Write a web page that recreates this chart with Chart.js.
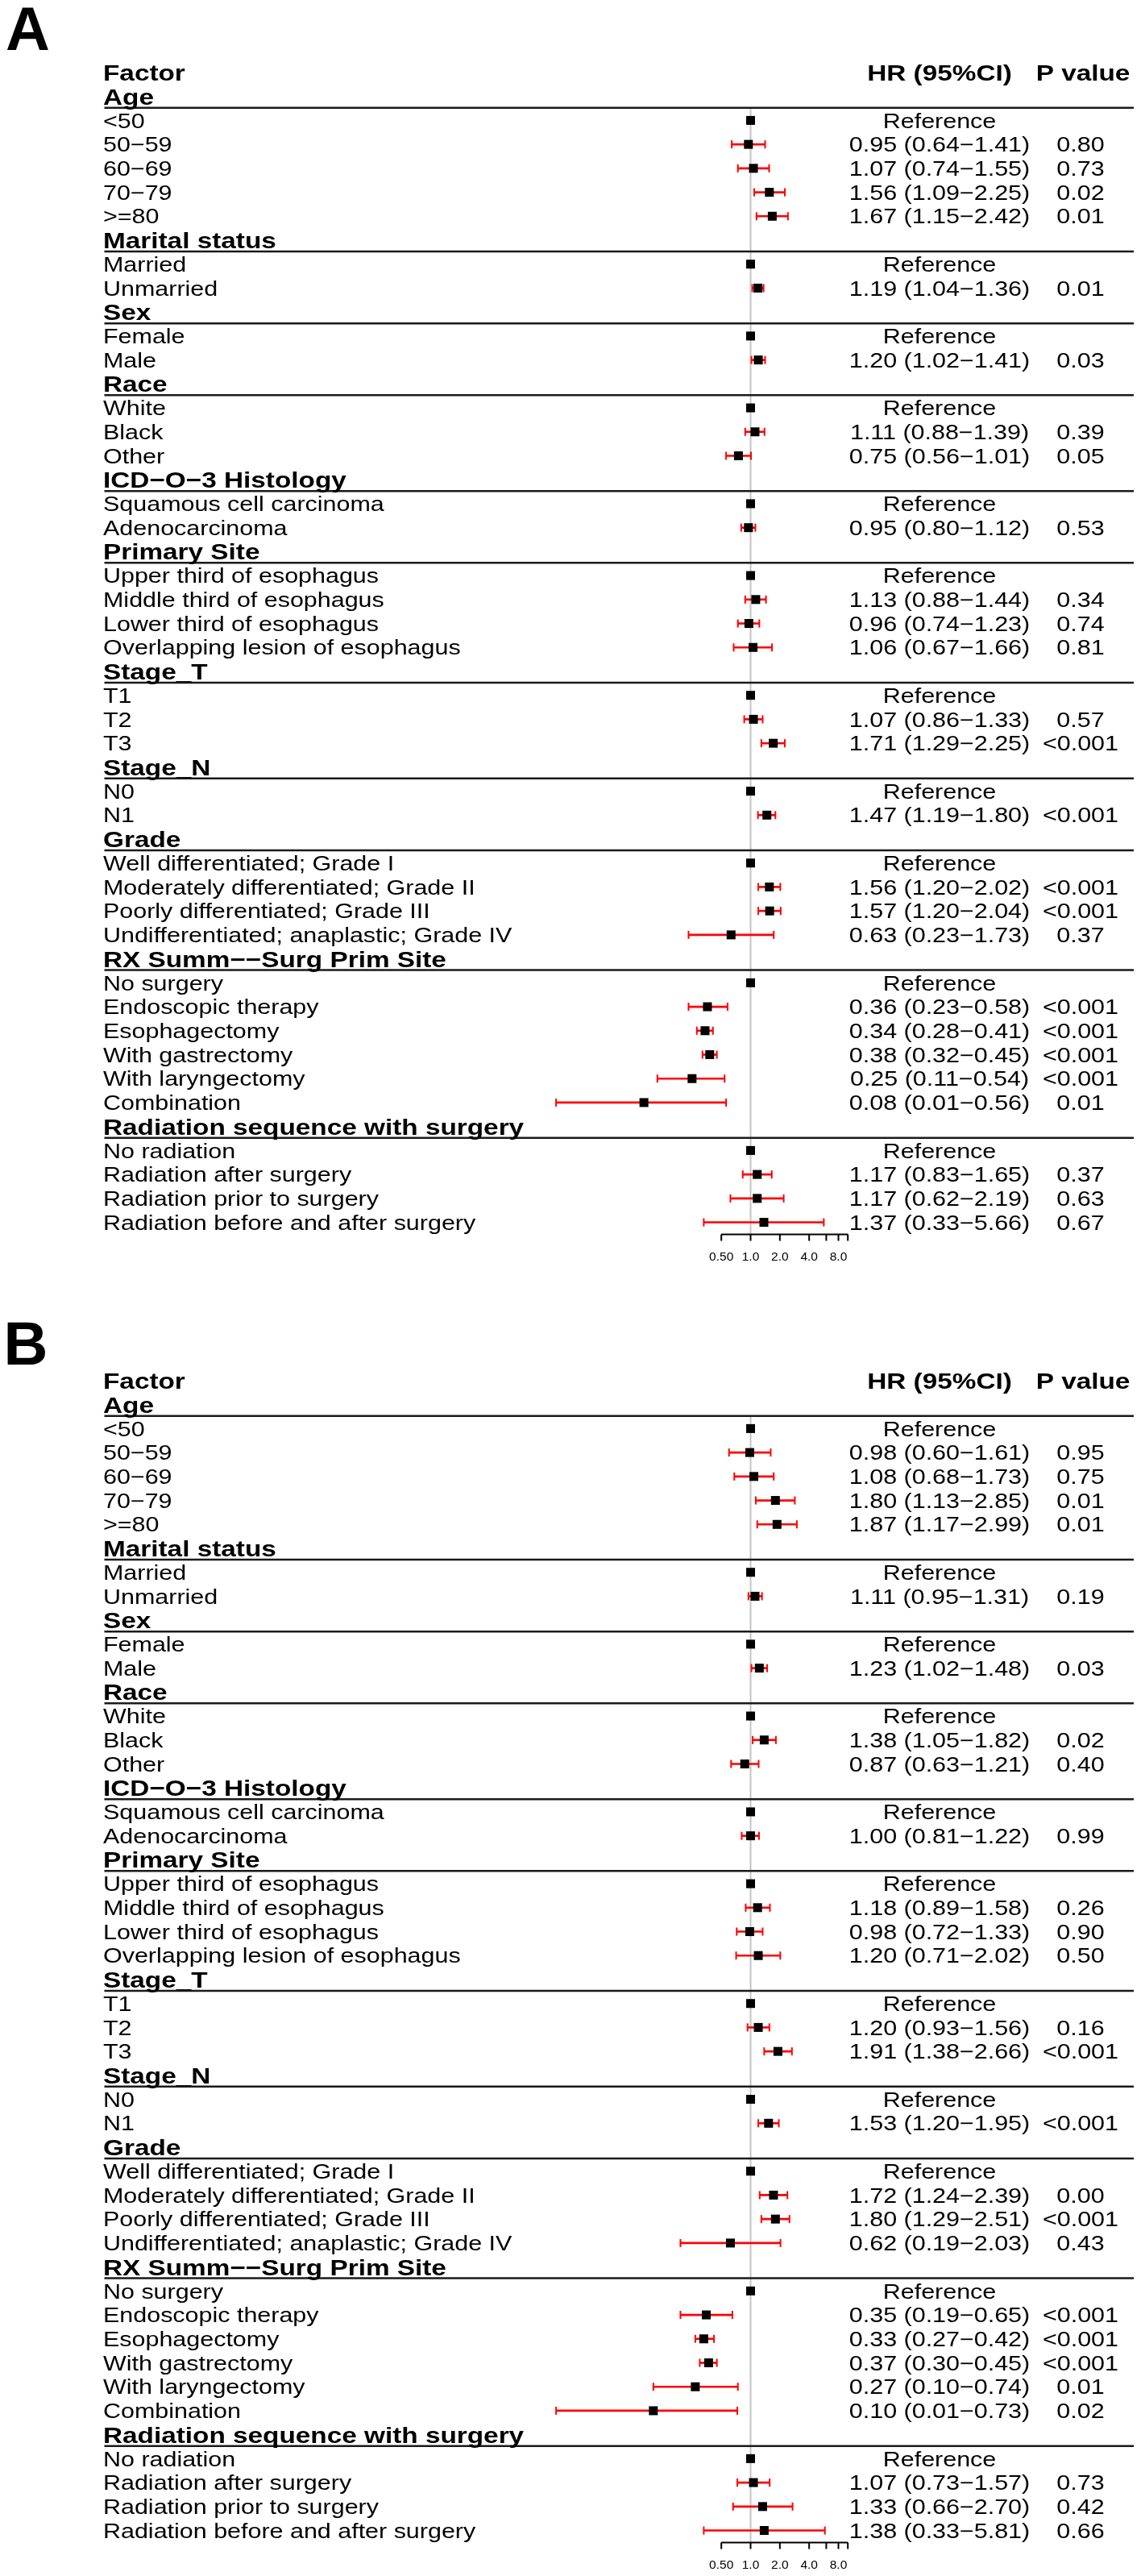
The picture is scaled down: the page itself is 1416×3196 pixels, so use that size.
<!DOCTYPE html>
<html>
<head>
<meta charset="utf-8">
<title>Forest plot</title>
<script src="https://cdn.jsdelivr.net/npm/chart.js@4.4.1/dist/chart.umd.min.js"></script>
<style>
  body { margin: 0; background: #fff; }
  canvas { display: block; }
</style>
</head>
<body>
<canvas id="panelA" width="1416" height="1623"></canvas>
<canvas id="panelB" width="1416" height="1573"></canvas>
<script>
const groups = ['Age', 'Marital status', 'Sex', 'Race', 'ICD−O−3 Histology', 'Primary Site', 'Stage_T', 'Stage_N', 'Grade', 'RX Summ−−Surg Prim Site', 'Radiation sequence with surgery'];
const groupItems = [
  ['<50', '50−59', '60−69', '70−79', '>=80'],
  ['Married', 'Unmarried'],
  ['Female', 'Male'],
  ['White', 'Black', 'Other'],
  ['Squamous cell carcinoma', 'Adenocarcinoma'],
  ['Upper third of esophagus', 'Middle third of esophagus', 'Lower third of esophagus', 'Overlapping lesion of esophagus'],
  ['T1', 'T2', 'T3'],
  ['N0', 'N1'],
  ['Well differentiated; Grade I', 'Moderately differentiated; Grade II', 'Poorly differentiated; Grade III', 'Undifferentiated; anaplastic; Grade IV'],
  ['No surgery', 'Endoscopic therapy', 'Esophagectomy', 'With gastrectomy', 'With laryngectomy', 'Combination'],
  ['No radiation', 'Radiation after surgery', 'Radiation prior to surgery', 'Radiation before and after surgery']
];
const refValue = 1;
const axisTicks = [0.5, 1, 2, 4, 6, 8, 10];
const axisLabelValues = [0.5, 1, 2, 4, 8];
const axisLabels = ['0.50', '1.0', '2.0', '4.0', '8.0'];

// Panel A (null = Reference)
const hrA = [null, 0.95, 1.07, 1.56, 1.67, null, 1.19, null, 1.20, null, 1.11, 0.75, null, 0.95, null, 1.13, 0.96, 1.06, null, 1.07, 1.71, null, 1.47, null, 1.56, 1.57, 0.63, null, 0.36, 0.34, 0.38, 0.25, 0.08, null, 1.17, 1.17, 1.37];
const loA = [null, 0.64, 0.74, 1.09, 1.15, null, 1.04, null, 1.02, null, 0.88, 0.56, null, 0.80, null, 0.88, 0.74, 0.67, null, 0.86, 1.29, null, 1.19, null, 1.20, 1.20, 0.23, null, 0.23, 0.28, 0.32, 0.11, 0.01, null, 0.83, 0.62, 0.33];
const hiA = [null, 1.41, 1.55, 2.25, 2.42, null, 1.36, null, 1.41, null, 1.39, 1.01, null, 1.12, null, 1.44, 1.23, 1.66, null, 1.33, 2.25, null, 1.80, null, 2.02, 2.04, 1.73, null, 0.58, 0.41, 0.45, 0.54, 0.56, null, 1.65, 2.19, 5.66];
const pA = ['', '0.80', '0.73', '0.02', '0.01', '', '0.01', '', '0.03', '', '0.39', '0.05', '', '0.53', '', '0.34', '0.74', '0.81', '', '0.57', '<0.001', '', '<0.001', '', '<0.001', '<0.001', '0.37', '', '<0.001', '<0.001', '<0.001', '<0.001', '0.01', '', '0.37', '0.63', '0.67'];

// Panel B
const hrB = [null, 0.98, 1.08, 1.80, 1.87, null, 1.11, null, 1.23, null, 1.38, 0.87, null, 1.00, null, 1.18, 0.98, 1.20, null, 1.20, 1.91, null, 1.53, null, 1.72, 1.80, 0.62, null, 0.35, 0.33, 0.37, 0.27, 0.10, null, 1.07, 1.33, 1.38];
const loB = [null, 0.60, 0.68, 1.13, 1.17, null, 0.95, null, 1.02, null, 1.05, 0.63, null, 0.81, null, 0.89, 0.72, 0.71, null, 0.93, 1.38, null, 1.20, null, 1.24, 1.29, 0.19, null, 0.19, 0.27, 0.30, 0.10, 0.01, null, 0.73, 0.66, 0.33];
const hiB = [null, 1.61, 1.73, 2.85, 2.99, null, 1.31, null, 1.48, null, 1.82, 1.21, null, 1.22, null, 1.58, 1.33, 2.02, null, 1.56, 2.66, null, 1.95, null, 2.39, 2.51, 2.03, null, 0.65, 0.42, 0.45, 0.74, 0.73, null, 1.57, 2.70, 5.81];
const pB = ['', '0.95', '0.75', '0.01', '0.01', '', '0.19', '', '0.03', '', '0.02', '0.40', '', '0.99', '', '0.26', '0.90', '0.50', '', '0.16', '<0.001', '', '<0.001', '', '0.00', '<0.001', '0.43', '', '<0.001', '<0.001', '<0.001', '0.01', '0.02', '', '0.73', '0.42', '0.66'];

const rows = [{ label: 'Factor', kind: 'head' }];
let n = 0;
groups.forEach((g, gi) => {
  rows.push({ label: g, kind: 'group' });
  groupItems[gi].forEach(label => rows.push({ label, kind: 'item', k: n++ }));
});

const FONT = '"Liberation Sans", Arial, Helvetica, sans-serif';
const STRETCH = 1.19;

// escala x: 1.0 en x=931.5, 36.33 px por duplicacion; el area se extiende a la izquierda
// para que las cajas y los topes por debajo de 0.50 no se recorten
const X_ONE = 931.5, PX_LOG2 = 36.33, X_MIN = 0.005, X_MAX = 10;
const padLeft = X_ONE - PX_LOG2 * Math.log2(1 / X_MIN);
const padRight = 1416 - (X_ONE + PX_LOG2 * Math.log2(X_MAX));

function texto(ctx, t, x, y, size, bold, align) {
  ctx.save();
  ctx.translate(x, y);
  ctx.scale(STRETCH, 1);
  ctx.font = (bold ? 'bold ' : '') + size + 'px ' + FONT;
  ctx.textAlign = align;
  ctx.textBaseline = 'alphabetic';
  ctx.fillStyle = '#000';
  ctx.fillText(t, 0, size * 0.358);
  ctx.restore();
}

const fmt = v => v.toFixed(2);

function makePanel(id, letter, letterX, letterY, hr, lo, hi, p) {
  const boxes = [], bars = [], caps = [];
  rows.forEach((r, i) => {
    if (r.kind !== 'item') return;
    const v = hr[r.k];
    if (v === null) { boxes.push({ x: refValue, y: i }); return; }
    boxes.push({ x: v, y: i });
    bars.push({ y: i, x: [lo[r.k], hi[r.k]] });
    caps.push({ x: lo[r.k], y: i }, { x: hi[r.k], y: i });
  });

  const canvas = document.getElementById(id);

  const forestText = {
    id: 'forestText',
    beforeDatasetsDraw(chart) {
      const ctx = chart.ctx, xs = chart.scales.x, ys = chart.scales.y, area = chart.chartArea;
      ctx.save();
      const x1 = xs.getPixelForValue(refValue);
      ctx.strokeStyle = '#c4c4c4';
      ctx.lineWidth = 2;
      ctx.beginPath();
      ctx.moveTo(x1, ys.getPixelForValue(1) + 14);
      ctx.lineTo(x1, area.bottom);
      ctx.stroke();
      ctx.strokeStyle = '#1a1a1a';
      ctx.lineWidth = 2.5;
      rows.forEach((r, i) => {
        if (r.kind !== 'group') return;
        const y = ys.getPixelForValue(i) + 14;
        ctx.beginPath();
        ctx.moveTo(129.5, y);
        ctx.lineTo(1407, y);
        ctx.stroke();
      });
      ctx.restore();
    },
    afterDatasetsDraw(chart) {
      const ctx = chart.ctx, xs = chart.scales.x, ys = chart.scales.y, area = chart.chartArea;
      ctx.save();
      ctx.font = 'bold 76px ' + FONT;
      ctx.fillStyle = '#000';
      ctx.textBaseline = 'alphabetic';
      ctx.fillText(letter, letterX, letterY);
      ctx.restore();

      rows.forEach((r, i) => {
        const y = ys.getPixelForValue(i);
        if (r.kind === 'head') {
          texto(ctx, r.label, 128, y, 28, true, 'left');
          texto(ctx, 'HR (95%CI)', 1166, y, 28, true, 'center');
          texto(ctx, 'P value', 1344, y, 28, true, 'center');
        } else if (r.kind === 'group') {
          texto(ctx, r.label, 128, y, 28, true, 'left');
        } else {
          texto(ctx, r.label, 128, y, 25.6, false, 'left');
          const v = hr[r.k];
          const hrText = v === null ? 'Reference' : fmt(v) + ' (' + fmt(lo[r.k]) + '−' + fmt(hi[r.k]) + ')';
          texto(ctx, hrText, 1166, y, 25.6, false, 'center');
          if (p[r.k]) texto(ctx, p[r.k], 1341, y, 25.6, false, 'center');
        }
      });

      // eje x
      ctx.save();
      ctx.strokeStyle = '#000';
      ctx.lineWidth = 2;
      ctx.beginPath();
      ctx.moveTo(xs.getPixelForValue(axisTicks[0]), area.bottom);
      ctx.lineTo(xs.getPixelForValue(axisTicks[axisTicks.length - 1]), area.bottom);
      axisTicks.forEach(t => {
        const x = xs.getPixelForValue(t);
        ctx.moveTo(x, area.bottom);
        ctx.lineTo(x, area.bottom + 8);
      });
      ctx.stroke();
      ctx.font = '15.5px ' + FONT;
      ctx.fillStyle = '#000';
      ctx.textAlign = 'center';
      ctx.textBaseline = 'middle';
      axisLabelValues.forEach((t, i) => ctx.fillText(axisLabels[i], xs.getPixelForValue(t), area.bottom + 28));
      ctx.restore();
    }
  };

  return new Chart(canvas, {
    type: 'scatter',
    data: {
      datasets: [
        { type: 'bar', data: bars, indexAxis: 'y', backgroundColor: '#ff0000', borderWidth: 0, barThickness: 2, clip: false, order: 3 },
        { type: 'scatter', data: caps, pointStyle: 'line', rotation: 90, radius: 5, borderColor: '#ff0000', borderWidth: 2, clip: false, order: 2 },
        { type: 'scatter', data: boxes, pointStyle: 'rect', radius: 7.8, backgroundColor: '#000', borderWidth: 0, clip: false, order: 1 }
      ]
    },
    options: {
      responsive: false,
      animation: false,
      devicePixelRatio: 1,
      events: [],
      layout: { padding: { left: padLeft, right: padRight, top: 75.1, bottom: canvas.height - 1531.4 } },
      plugins: { legend: { display: false }, tooltip: { enabled: false } },
      scales: {
        x: { type: 'logarithmic', min: X_MIN, max: X_MAX, bounds: 'data', display: false, offset: false },
        y: { type: 'linear', min: -0.5, max: rows.length - 0.5, reverse: true, bounds: 'data', display: false, offset: false }
      }
    },
    plugins: [forestText]
  });
}

makePanel('panelA', 'A', 7, 62, hrA, loA, hiA, pA);
makePanel('panelB', 'B', 4.5, 70, hrB, loB, hiB, pB);
</script>
</body>
</html>
